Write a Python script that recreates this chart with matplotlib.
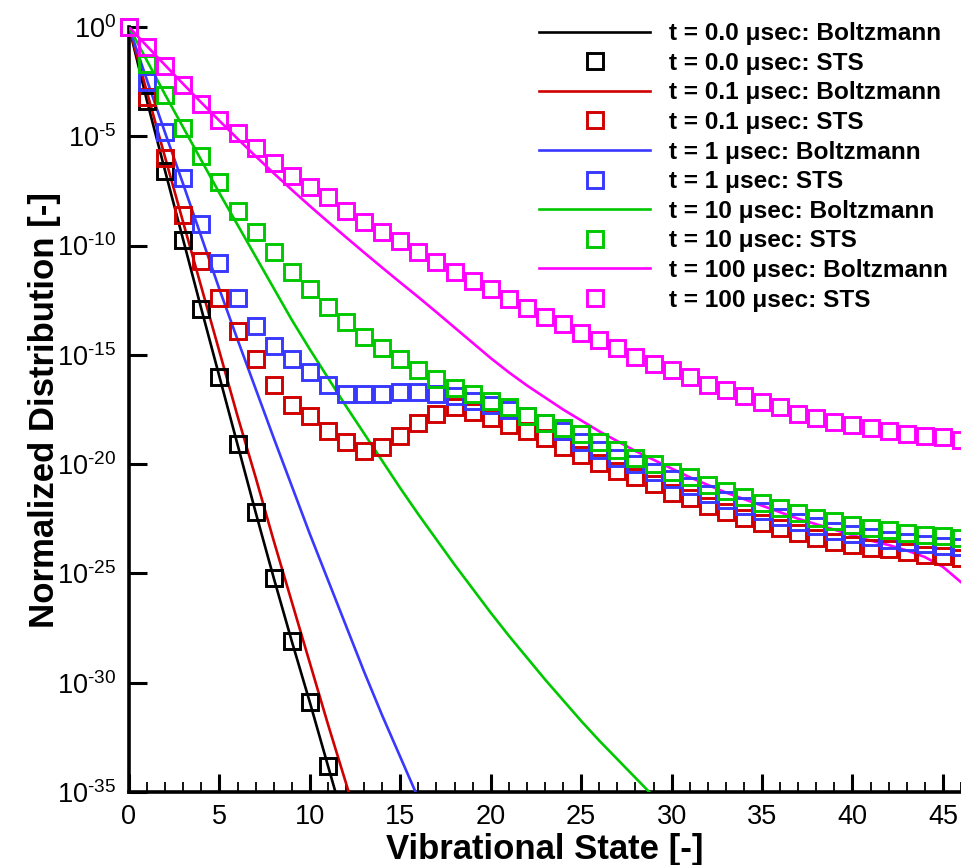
import numpy as np
import matplotlib
matplotlib.use('Agg')
import matplotlib.pyplot as plt
from matplotlib.ticker import FixedLocator, MultipleLocator, NullLocator, FixedFormatter

plt.rcParams['font.family'] = ['Liberation Sans', 'DejaVu Sans']
plt.rcParams['mathtext.fontset'] = 'custom'
plt.rcParams['mathtext.rm'] = 'Liberation Sans'
plt.rcParams['mathtext.it'] = 'Liberation Sans:italic'
plt.rcParams['mathtext.bf'] = 'Liberation Sans:bold'

# ---------------- data (log10 of normalized distribution) ----------------
times = ['0.0', '0.1', '1', '10', '100']
colors = ['#000000', '#d00000', '#3838ff', '#00c800', '#ff00ff']

boltz_t0 = [0, -3.4, -6.6, -9.75, -12.9, -16.0, -19.1, -22.2, -25.2, -28.1, -30.9, -33.8, -36.7]
sts_t0 = [0, -3.4, -6.6, -9.75, -12.9, -16.0, -19.1, -22.2, -25.2, -28.1, -30.9, -33.8]

boltz_t01 = [0, -3.0, -5.98, -8.95, -11.9, -14.85, -17.8, -20.6, -23.5, -26.3, -29.1,
             -31.9, -34.6, -37.4]
sts_t01 = [0, -3.2, -6.0, -8.6, -10.7, -12.4, -13.9, -15.2, -16.4, -17.3, -17.8,
           -18.5, -19.0, -19.4, -19.2, -18.7, -18.1, -17.7, -17.4, -17.6, -17.9,
           -18.2, -18.5, -18.8, -19.2, -19.6, -19.95, -20.3, -20.6, -20.9, -21.3,
           -21.55, -21.9, -22.2, -22.45, -22.7, -22.9, -23.15, -23.4, -23.55, -23.7,
           -23.85, -23.9, -24.0, -24.15, -24.2, -24.3]

boltz_t1 = [0, -2.45, -4.85, -7.2, -9.6, -12.0, -14.3, -16.55, -18.8, -21.0, -23.2,
            -25.3, -27.4, -29.5, -31.5, -33.4, -35.3, -37.2]
sts_t1 = [0, -2.5, -4.8, -6.9, -9.0, -10.8, -12.4, -13.7, -14.6, -15.2, -15.8,
          -16.4, -16.8, -16.8, -16.8, -16.7, -16.7, -16.8, -16.9, -17.1, -17.3,
          -17.5, -17.8, -18.1, -18.5, -19.0, -19.35, -19.7, -20.0, -20.35, -20.7,
          -21.0, -21.35, -21.65, -21.9, -22.15, -22.4, -22.65, -22.85, -23.05, -23.2,
          -23.35, -23.45, -23.55, -23.65, -23.75, -23.8]

boltz_t10 = [0, -1.55, -3.1, -4.6, -6.1, -7.6, -9.05, -10.5, -11.95, -13.4, -14.75,
             -16.05, -17.35, -18.6, -19.85, -21.1, -22.3, -23.45, -24.6, -25.7, -26.8,
             -27.85, -28.85, -29.85, -30.8, -31.75, -32.65, -33.5, -34.35, -35.2, -36.0]
sts_t10 = [0, -1.7, -3.1, -4.6, -5.9, -7.1, -8.4, -9.4, -10.3, -11.2, -12.0,
           -12.8, -13.5, -14.2, -14.7, -15.2, -15.7, -16.1, -16.5, -16.8, -17.1,
           -17.4, -17.8, -18.1, -18.35, -18.6, -19.0, -19.35, -19.7, -20.0, -20.35,
           -20.6, -20.95, -21.25, -21.5, -21.8, -22.0, -22.25, -22.45, -22.6, -22.8,
           -22.9, -23.0, -23.15, -23.25, -23.3, -23.4]

boltz_t100 = [0, -0.88, -1.75, -2.61, -3.46, -4.29, -5.11, -5.91, -6.69, -7.45, -8.19,
              -8.91, -9.62, -10.32, -11.01, -11.69, -12.36, -13.05, -13.75, -14.45, -15.15,
              -15.8, -16.4, -16.95, -17.5, -18.0, -18.5, -18.95, -19.4, -19.8, -20.2,
              -20.6, -20.95, -21.3, -21.6, -21.9, -22.2, -22.5, -22.75, -23.0, -23.25,
              -23.5, -23.7, -23.95, -24.25, -24.7, -25.4]
sts_t100 = [0, -0.9, -1.8, -2.65, -3.5, -4.25, -4.85, -5.55, -6.2, -6.8, -7.3,
            -7.8, -8.4, -8.9, -9.4, -9.8, -10.3, -10.75, -11.2, -11.6, -12.0,
            -12.45, -12.85, -13.25, -13.6, -14.0, -14.3, -14.7, -15.1, -15.4, -15.7,
            -16.0, -16.4, -16.6, -16.9, -17.15, -17.4, -17.7, -17.9, -18.05, -18.2,
            -18.35, -18.5, -18.6, -18.7, -18.75, -18.9]

boltz_all = [boltz_t0, boltz_t01, boltz_t1, boltz_t10, boltz_t100]
sts_all = [sts_t0, sts_t01, sts_t1, sts_t10, sts_t100]

ytick_exponents = [0, -5, -10, -15, -20, -25, -30, -35]
xticks_major = [0, 5, 10, 15, 20, 25, 30, 35, 40, 45]

# ---------------- figure ----------------
W, H = 961, 865
fig = plt.figure(figsize=(W / 100, H / 100), dpi=100)
ax = fig.add_axes([129 / W, 73 / H, 832 / W, 765 / H])

handles = []
labels = []
for t, col, b, s in zip(times, colors, boltz_all, sts_all):
    vb = np.arange(len(b))
    vs = np.arange(len(s))
    ln, = ax.plot(vb, 10.0 ** np.array(b, dtype=float), '-', color=col, lw=1.9, zorder=3)
    mk, = ax.plot(vs, 10.0 ** np.array(s, dtype=float), 's', ms=12.0, mfc='none',
                  mec=col, mew=2.1, ls='none', clip_on=False, zorder=4)
    handles += [ln, mk]
    labels += [f't = {t} \u03bcsec: Boltzmann', f't = {t} \u03bcsec: STS']

ax.set_yscale('log')
ax.set_xlim(0, 46)
ax.set_ylim(1e-35, 1e0)

def exp_label(e):
    if e < 0:
        return r'$\mathdefault{10^{\text{-}%d}}$' % (-e)
    return r'$\mathdefault{10^{%d}}$' % e

ax.yaxis.set_major_locator(FixedLocator([10.0 ** e for e in ytick_exponents]))
ax.yaxis.set_major_formatter(FixedFormatter([exp_label(e) for e in ytick_exponents]))
ax.yaxis.set_minor_locator(NullLocator())
ax.xaxis.set_major_locator(FixedLocator(xticks_major))
ax.xaxis.set_minor_locator(MultipleLocator(1))

for sp in ['top', 'right']:
    ax.spines[sp].set_visible(False)
for sp in ['left', 'bottom']:
    ax.spines[sp].set_linewidth(2.6)

ax.tick_params(which='major', direction='in', length=13, width=2.2, labelsize=19.5, pad=9)
ax.tick_params(which='minor', direction='in', length=7, width=1.3)
ax.tick_params(top=False, right=False)

ax.set_xlabel('Vibrational State [-]', fontsize=25, fontweight='bold', labelpad=2)
ax.set_ylabel('Normalized Distribution [-]', fontsize=25, fontweight='bold', labelpad=-3)

leg = ax.legend(handles, labels, loc='upper left', bbox_to_anchor=(522 / W, 1.0 - 5 / H),
                bbox_transform=fig.transFigure, frameon=False, numpoints=1,
                prop={'weight': 'bold', 'size': 17.6}, handlelength=4.55,
                handletextpad=0.78, labelspacing=0.27, borderpad=0.2)

fig.savefig('out.png', dpi=100)
